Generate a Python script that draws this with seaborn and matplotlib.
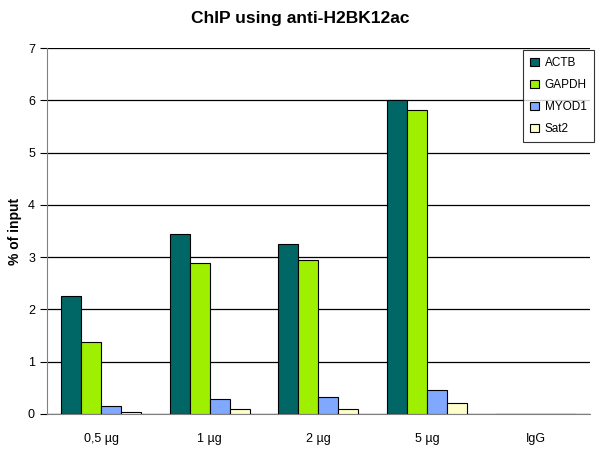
import pandas as pd
import matplotlib
matplotlib.use("Agg")
import matplotlib.pyplot as plt
import seaborn as sns
from matplotlib.ticker import FixedLocator

# Dados
amounts = ["0,5 µg", "1 µg", "2 µg", "5 µg", "IgG"]
genes = ["ACTB", "GAPDH", "MYOD1", "Sat2"]
actb = [2.26, 3.45, 3.25, 6.0, 0.0]
gapdh = [1.38, 2.89, 2.94, 5.81, 0.0]
myod1 = [0.15, 0.29, 0.33, 0.46, 0.0]
sat2 = [0.04, 0.09, 0.09, 0.21, 0.0]
colors = ["#006666", "#9ef000", "#80a8ff", "#ffffcc"]

rows = []
for gene, vals in zip(genes, [actb, gapdh, myod1, sat2]):
    for amount, v in zip(amounts, vals):
        rows.append({"amount": amount, "gene": gene, "value": v})
df = pd.DataFrame(rows)

sns.set_style("white")
plt.rcParams["font.family"] = ["Liberation Sans", "DejaVu Sans"]
plt.rcParams["text.color"] = "black"
plt.rcParams["axes.labelcolor"] = "black"
plt.rcParams["xtick.color"] = "black"
plt.rcParams["ytick.color"] = "black"

fig = plt.figure(figsize=(6, 4.49), dpi=100)
ax = fig.add_axes([0.078, 0.078, 0.905, 0.815])

sns.barplot(data=df, x="amount", y="value", hue="gene", palette=colors,
            width=0.74, edgecolor="black", linewidth=0.8, saturation=1,
            ax=ax, zorder=3)

# Grade horizontal
ax.set_ylim(0, 7)
ax.set_yticks(range(0, 8))
ax.yaxis.grid(True, color="black", linewidth=0.9, zorder=0)
ax.set_axisbelow(True)
ax.set_xlim(-0.5, 4.5)

for side in ["top", "right"]:
    ax.spines[side].set_visible(False)
ax.spines["left"].set_color("#808080")
ax.spines["bottom"].set_color("#808080")

# Marcas entre as categorias
ax.xaxis.set_minor_locator(FixedLocator([0.5, 1.5, 2.5, 3.5, 4.5]))
ax.tick_params(axis="x", which="major", length=0, labelsize=9, pad=14)
ax.tick_params(axis="x", which="minor", length=5, color="black", direction="out")
ax.tick_params(axis="y", length=5, color="black", direction="out", labelsize=9, left=True)

ax.set_xlabel("")
ax.set_ylabel("% of input", fontsize=10, fontweight="bold")
fig.suptitle("ChIP using anti-H2BK12ac", fontsize=12.5, fontweight="bold", x=0.5, y=0.975)

leg = ax.legend(loc="upper right", bbox_to_anchor=(1.007, 0.995), frameon=True,
                fancybox=False, edgecolor="black", fontsize=8.5,
                handlelength=0.7, handleheight=0.7, labelspacing=0.85,
                borderpad=0.6, handletextpad=0.5, borderaxespad=0)
leg.get_frame().set_linewidth(0.8)

fig.savefig("out.png", dpi=100, facecolor="white")
